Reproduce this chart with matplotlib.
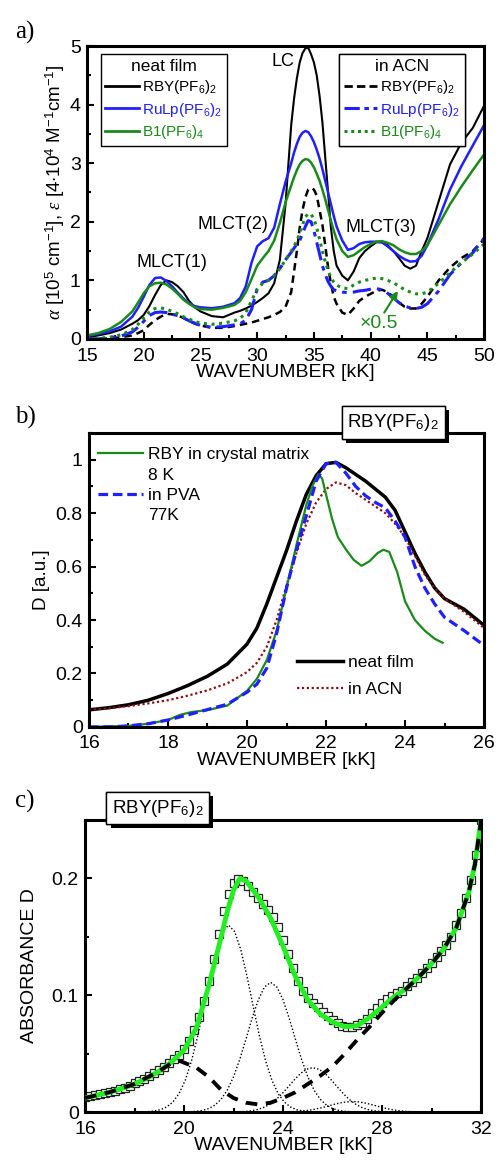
import numpy as np
import matplotlib.pyplot as plt
import matplotlib.patheffects as pe
from matplotlib.ticker import MultipleLocator
from matplotlib.lines import Line2D

plt.rcParams['font.family'] = ['Liberation Sans', 'DejaVu Sans']
plt.rcParams['mathtext.fontset'] = 'custom'
plt.rcParams['mathtext.rm'] = 'Liberation Sans'
plt.rcParams['mathtext.it'] = 'Liberation Serif:italic'
plt.rcParams['mathtext.bf'] = 'Liberation Sans:bold'

BLUE = '#1f1fff'
GREEN = '#1a8a1a'
LIME = '#22ee22'
DARKRED = '#8b1010'

# ---------------- panel a: absorption, neat film vs ACN ----------------
a_x = [15, 16, 17, 18, 19, 19.5, 20, 20.5, 21, 21.5, 22, 22.5, 23, 23.5, 24, 24.5, 25, 26, 27, 28,
       28.5, 29, 29.5, 30, 30.5, 31, 31.5, 32, 32.5, 33, 33.25, 33.5, 33.75, 34, 34.25, 34.5, 34.75,
       35, 35.25, 35.5, 35.75, 36, 36.25, 36.5, 36.75, 37, 37.5, 38, 38.5, 39, 39.5, 40, 40.5, 41,
       41.5, 42, 42.5, 43, 43.5, 44, 44.5, 45, 46, 47, 48, 49, 50]
film_rby = [0.03, 0.06, 0.1, 0.16, 0.26, 0.32, 0.41, 0.56, 0.75, 0.92, 1.0, 0.97, 0.9, 0.8, 0.65,
            0.54, 0.47, 0.39, 0.37, 0.45, 0.48, 0.52, 0.57, 0.63, 0.7, 0.78, 0.95, 1.35, 2.3, 3.65,
            4.1, 4.45, 4.72, 4.88, 4.96, 4.97, 4.86, 4.72, 4.5, 4.15, 3.7, 3.1, 2.5, 1.9, 1.5, 1.25,
            1.08, 1.0, 1.15, 1.38, 1.5, 1.58, 1.65, 1.65, 1.6, 1.5, 1.38, 1.25, 1.2, 1.25, 1.5,
            1.72, 2.35, 2.98, 3.35, 3.6, 3.98]
film_rulp = [0.05, 0.086, 0.13, 0.21, 0.38, 0.53, 0.72, 0.92, 1.04, 1.05, 0.99, 0.9, 0.79, 0.69,
             0.61, 0.56, 0.54, 0.525, 0.55, 0.61, 0.7, 0.9, 1.3, 1.58, 1.67, 1.72, 1.9, 2.3, 2.68,
             3.0, 3.18, 3.33, 3.45, 3.52, 3.55, 3.53, 3.46, 3.36, 3.23, 3.08, 2.9, 2.7, 2.5, 2.3,
             2.1, 1.92, 1.68, 1.52, 1.55, 1.62, 1.65, 1.66, 1.66, 1.65, 1.58, 1.5, 1.42, 1.36, 1.32,
             1.33, 1.42, 1.6, 2.05, 2.55, 2.95, 3.3, 3.65]
film_b1 = [0.06, 0.1, 0.17, 0.29, 0.47, 0.62, 0.78, 0.9, 0.95, 0.96, 0.93, 0.86, 0.77, 0.67, 0.6,
           0.54, 0.51, 0.5, 0.53, 0.58, 0.65, 0.8, 1.02, 1.25, 1.38, 1.5, 1.68, 1.98, 2.33, 2.62,
           2.76, 2.88, 2.98, 3.04, 3.07, 3.06, 3.01, 2.93, 2.82, 2.7, 2.55, 2.38, 2.2, 2.02, 1.85,
           1.7, 1.5, 1.4, 1.43, 1.5, 1.57, 1.62, 1.66, 1.67, 1.64, 1.6, 1.53, 1.48, 1.45, 1.45, 1.5,
           1.6, 1.95, 2.3, 2.6, 2.88, 3.15]
acn_rby = [0.0, 0.0, 0.01, 0.03, 0.06, 0.1, 0.15, 0.24, 0.32, 0.38, 0.43, 0.42, 0.4, 0.36, 0.31,
           0.26, 0.23, 0.19, 0.19, 0.22, 0.24, 0.26, 0.28, 0.31, 0.34, 0.37, 0.41, 0.46, 0.55, 0.8,
           1.15, 1.5, 1.9, 2.2, 2.42, 2.55, 2.58, 2.55, 2.45, 2.2, 1.95, 1.6, 1.22, 0.95, 0.72, 0.6,
           0.45, 0.41, 0.52, 0.65, 0.72, 0.77, 0.82, 0.84, 0.8, 0.72, 0.62, 0.55, 0.52, 0.52, 0.6,
           0.72, 1.0, 1.22, 1.38, 1.5, 1.7]
acn_rulp = [0.0, 0.0, 0.02, 0.05, 0.12, 0.2, 0.3, 0.4, 0.45, 0.46, 0.45, 0.42, 0.4, 0.36, 0.31,
            0.27, 0.23, 0.2, 0.21, 0.24, 0.26, 0.32, 0.5, 0.85, 0.97, 1.0, 1.08, 1.2, 1.35, 1.48,
            1.55, 1.62, 1.68, 1.8, 1.92, 2.02, 2.0, 1.85, 1.65, 1.45, 1.25, 1.1, 0.98, 0.9, 0.84,
            0.82, 0.8, 0.79, 0.8, 0.82, 0.83, 0.85, 0.86, 0.84, 0.78, 0.7, 0.62, 0.56, 0.53, 0.52,
            0.54, 0.6, 0.82, 1.1, 1.3, 1.47, 1.72]
acn_b1 = [0.0, 0.01, 0.03, 0.07, 0.16, 0.25, 0.36, 0.46, 0.52, 0.53, 0.51, 0.47, 0.43, 0.38, 0.34,
          0.3, 0.27, 0.25, 0.27, 0.31, 0.35, 0.45, 0.65, 0.85, 0.95, 1.0, 1.08, 1.2, 1.35, 1.5,
          1.58, 1.68, 1.8, 1.95, 2.08, 2.14, 2.13, 2.05, 1.9, 1.7, 1.5, 1.32, 1.17, 1.05, 0.97,
          0.92, 0.87, 0.86, 0.92, 0.97, 1.0, 1.02, 1.04, 1.03, 1.0, 0.96, 0.9, 0.84, 0.8, 0.77,
          0.77, 0.8, 0.95, 1.13, 1.3, 1.45, 1.62]

# ---------------- panel b: normalised spectra of RBY(PF6)2 ----------------
b_x = [16, 16.5, 17, 17.5, 18, 18.5, 19, 19.5, 20, 20.25, 20.5, 20.75, 21, 21.25, 21.5, 21.75, 22,
       22.25, 22.5, 22.75, 23, 23.25, 23.5, 23.75, 24, 24.25, 24.5, 24.75, 25, 25.5, 26]
b_film = [0.064, 0.072, 0.083, 0.1, 0.125, 0.155, 0.19, 0.235, 0.31, 0.37, 0.46, 0.56, 0.66, 0.77,
          0.87, 0.94, 0.985, 0.99, 0.97, 0.945, 0.92, 0.89, 0.86, 0.81, 0.73, 0.65, 0.58, 0.52, 0.48,
          0.44, 0.38]
b_acn = [0.064, 0.07, 0.078, 0.088, 0.1, 0.117, 0.137, 0.163, 0.205, 0.24, 0.3, 0.4, 0.53, 0.65,
         0.76, 0.84, 0.89, 0.915, 0.905, 0.875, 0.85, 0.825, 0.8, 0.76, 0.71, 0.64, 0.57, 0.52, 0.48,
         0.43, 0.37]
b_pva = [0.0, 0.0, 0.004, 0.012, 0.026, 0.045, 0.065, 0.085, 0.13, 0.16, 0.22, 0.35, 0.52, 0.66,
         0.79, 0.92, 0.985, 0.99, 0.95, 0.9, 0.865, 0.84, 0.82, 0.77, 0.71, 0.6, 0.52, 0.46, 0.41,
         0.36, 0.305]
b_xtal_x = [16, 17, 17.5, 18, 18.3, 18.6, 19, 19.5, 20, 20.25, 20.5, 20.75, 21, 21.25, 21.5, 21.65,
            21.8, 21.9, 22.0, 22.15, 22.3, 22.5, 22.7, 22.9, 23.1, 23.3, 23.45, 23.6, 23.8, 24.0,
            24.25, 24.5, 24.75, 24.95]
b_xtal_y = [0.0, 0.004, 0.012, 0.026, 0.045, 0.056, 0.063, 0.08, 0.135, 0.18, 0.25, 0.36, 0.52,
            0.68, 0.83, 0.9, 0.945, 0.93, 0.87, 0.78, 0.71, 0.665, 0.625, 0.603, 0.62, 0.65, 0.663,
            0.655, 0.58, 0.47, 0.4, 0.36, 0.33, 0.315]

# ---------------- panel c: band decomposition ----------------
c_x = [16.0, 16.2, 16.4, 16.6, 16.8, 17.0, 17.2, 17.4, 17.6, 17.8, 18.0, 18.2, 18.4, 18.6, 18.8,
       19.0, 19.2, 19.4, 19.6, 19.8, 20.0, 20.2, 20.4, 20.6, 20.8, 21.0, 21.2, 21.4, 21.6, 21.8,
       22.0, 22.2, 22.4, 22.6, 22.8, 23.0, 23.2, 23.4, 23.6, 23.8, 24.0, 24.2, 24.4, 24.6, 24.8,
       25.0, 25.2, 25.4, 25.6, 25.8, 26.0, 26.2, 26.4, 26.6, 26.8, 27.0, 27.2, 27.4, 27.6, 27.8,
       28.0, 28.2, 28.4, 28.6, 28.8, 29.0, 29.2, 29.4, 29.6, 29.8, 30.0, 30.2, 30.4, 30.6, 30.8,
       31.0, 31.2, 31.4, 31.6, 31.8, 32.0]
c_data = [0.0130, 0.0137, 0.0145, 0.0153, 0.0162, 0.0172, 0.0184, 0.0196, 0.0210, 0.0226, 0.0245,
          0.0264, 0.0285, 0.0308, 0.0333, 0.0360, 0.0388, 0.0418, 0.0450, 0.0490, 0.0540, 0.0610,
          0.0700, 0.0810, 0.0950, 0.1120, 0.1310, 0.1520, 0.1720, 0.1870, 0.1960, 0.1995, 0.1980,
          0.1935, 0.1880, 0.1830, 0.1780, 0.1730, 0.1670, 0.1580, 0.1470, 0.1350, 0.1230, 0.1125,
          0.1040, 0.0980, 0.0935, 0.0895, 0.0855, 0.0818, 0.0785, 0.0758, 0.0738, 0.0728, 0.0730,
          0.0742, 0.0765, 0.0800, 0.0845, 0.0890, 0.0935, 0.0970, 0.0995, 0.1015, 0.1040, 0.1075,
          0.1110, 0.1150, 0.1190, 0.1235, 0.1280, 0.1325, 0.1375, 0.1430, 0.1500, 0.1600, 0.1700,
          0.1830, 0.1990, 0.2200, 0.2500]
fit_x = [16, 16.5, 17, 17.5, 18, 18.5, 19, 19.5, 20, 20.5, 21, 21.5, 21.75, 22, 22.25, 22.5, 23,
         23.5, 24, 24.5, 25, 25.5, 26, 26.5, 27, 27.5, 28, 28.5, 29, 29.5, 30, 30.5, 31, 31.5,
         31.75, 32]
fit_y = [0.012, 0.0145, 0.017, 0.0202, 0.024, 0.029, 0.035, 0.043, 0.053, 0.072, 0.108, 0.150,
         0.172, 0.19, 0.2, 0.198, 0.184, 0.166, 0.142, 0.116, 0.096, 0.084, 0.077, 0.073, 0.074,
         0.081, 0.09, 0.099, 0.106, 0.116, 0.127, 0.14, 0.158, 0.188, 0.212, 0.25]
bg_x = [16, 17, 18, 19, 19.5, 19.8, 20.5, 21, 21.5, 22, 22.5, 23, 23.5, 24, 24.5, 25, 25.5, 26,
        26.5, 27, 27.5, 28, 28.5, 29, 29.5, 30, 30.5, 31, 31.5, 31.75, 32]
bg_y = [0.012, 0.017, 0.024, 0.035, 0.042, 0.044, 0.038, 0.030, 0.019, 0.012, 0.008, 0.0065,
        0.008, 0.012, 0.017, 0.024, 0.031, 0.039, 0.05, 0.062, 0.073, 0.085, 0.096, 0.106, 0.116,
        0.127, 0.14, 0.158, 0.188, 0.212, 0.25]
band_shape = [0.0022, 0.0055, 0.0126, 0.0270, 0.0536, 0.0991, 0.170, 0.272, 0.405, 0.561, 0.7225,
              0.8655, 0.9645, 1.0, 0.9645, 0.8655, 0.7225, 0.561, 0.405, 0.272, 0.170, 0.0991,
              0.0536, 0.0270, 0.0126, 0.0055, 0.0022]
band_offsets = [-3.25, -3.0, -2.75, -2.5, -2.25, -2.0, -1.75, -1.5, -1.25, -1.0, -0.75, -0.5, -0.25,
                0.0, 0.25, 0.5, 0.75, 1.0, 1.25, 1.5, 1.75, 2.0, 2.25, 2.5, 2.75, 3.0, 3.25]
band_centers = [21.8, 23.5, 25.2, 26.8]
band_heights = [0.16, 0.111, 0.038, 0.009]

fig = plt.figure(figsize=(4.97, 11.62), dpi=100)
ax_a = fig.add_axes([0.175, 0.7083, 0.799, 0.2521])
ax_b = fig.add_axes([0.179, 0.3744, 0.795, 0.2530])
ax_c = fig.add_axes([0.171, 0.0430, 0.797, 0.2513])


def style(ax, fs):
    for s in ax.spines.values():
        s.set_linewidth(2.2)
    ax.tick_params(which='both', direction='in', width=1.5, labelsize=fs, top=False, right=False)
    ax.tick_params(which='major', length=5)
    ax.tick_params(which='minor', length=3)
    ax.tick_params(axis='x', pad=6.5)
    ax.tick_params(axis='y', pad=4.5)


def boxed_label(ax, x, y, txt):
    t = ax.text(x, y, txt, transform=ax.transAxes, fontsize=13.5, ha='center', va='center',
                bbox=dict(boxstyle='square,pad=0.3', fc='white', ec='black', lw=1),
                clip_on=False, zorder=6)
    t.get_bbox_patch().set_path_effects([
        pe.withSimplePatchShadow(offset=(3, -3), shadow_rgbFace='black', alpha=1.0),
        pe.Normal()])


# panel a
ax_a.plot(a_x, film_rby, color='black', lw=1.5)
ax_a.plot(a_x, film_rulp, color=BLUE, lw=1.8)
ax_a.plot(a_x, film_b1, color=GREEN, lw=1.8)
ax_a.plot(a_x, acn_rby, color='black', lw=1.8, ls=(0, (3, 2)))
ax_a.plot(a_x, acn_rulp, color=BLUE, lw=2.2, ls=(0, (6, 2, 1.5, 2)))
ax_a.plot(a_x, acn_b1, color=GREEN, lw=2.2, ls=(0, (1, 1.5)))
ax_a.set_xlim(15, 50)
ax_a.set_ylim(0, 5)
ax_a.xaxis.set_major_locator(MultipleLocator(5))
ax_a.xaxis.set_minor_locator(MultipleLocator(2.5))
ax_a.yaxis.set_major_locator(MultipleLocator(1))
ax_a.yaxis.set_minor_locator(MultipleLocator(0.5))
style(ax_a, 14)
ax_a.set_xlabel('WAVENUMBER [kK]', fontsize=14, labelpad=-1)
ax_a.set_ylabel(r'$\alpha$ [10$^5$ cm$^{-1}$], $\varepsilon$ [4$\cdot$10$^4$ M$^{-1}$cm$^{-1}$]',
                fontsize=13.5, labelpad=2)
ax_a.text(32.3, 4.73, 'LC', fontsize=13, ha='center', va='center')
ax_a.text(22.5, 1.30, 'MLCT(1)', fontsize=13, ha='center', va='center')
ax_a.text(27.9, 1.95, 'MLCT(2)', fontsize=13, ha='center', va='center')
ax_a.text(40.9, 1.90, 'MLCT(3)', fontsize=13, ha='center', va='center')
ax_a.text(40.7, 0.27, '×0.5', fontsize=14, color=GREEN, ha='center', va='center')
ax_a.annotate('', xy=(42.4, 0.82), xytext=(41.2, 0.45),
              arrowprops=dict(arrowstyle='-|>', color=GREEN, lw=1.5, shrinkA=0, shrinkB=0,
                              mutation_scale=12))

leg_film = [Line2D([], [], color='black', lw=2), Line2D([], [], color=BLUE, lw=2),
            Line2D([], [], color=GREEN, lw=2)]
leg_acn = [Line2D([], [], color='black', lw=2, ls=(0, (3, 1.5))),
           Line2D([], [], color=BLUE, lw=2.2, ls=(0, (5, 1.5, 1.5, 1.5))),
           Line2D([], [], color=GREEN, lw=2.2, ls=(0, (1, 1.2)))]
names = [r'RBY(PF$_6$)$_2$', r'RuLp(PF$_6$)$_2$', r'B1(PF$_6$)$_4$']
text_colors = ['black', BLUE, GREEN]
for handles, title, anchor in [(leg_film, 'neat film', (0.035, 0.973)),
                               (leg_acn, 'in ACN', (0.635, 0.973))]:
    lg = ax_a.legend(handles, names, title=title, loc='upper left', bbox_to_anchor=anchor,
                     fontsize=11, title_fontsize=12.5, fancybox=False, edgecolor='black',
                     framealpha=1, handlelength=2.2, handletextpad=0.2, borderpad=0.3,
                     labelspacing=0.3, borderaxespad=0)
    lg.get_frame().set_linewidth(1)
    for t, c in zip(lg.get_texts(), text_colors):
        t.set_color(c)
    ax_a.add_artist(lg)

# panel b
ax_b.plot(b_x, b_film, color='black', lw=2.5)
ax_b.plot(b_x, b_acn, color=DARKRED, lw=1.6, ls=(0, (1, 1.2)))
ax_b.plot(b_xtal_x, b_xtal_y, color=GREEN, lw=1.6)
ax_b.plot(b_x, b_pva, color=BLUE, lw=2.3, ls=(0, (3, 1.5)))
ax_b.set_xlim(16, 26)
ax_b.set_ylim(0, 1.1)
ax_b.xaxis.set_major_locator(MultipleLocator(2))
ax_b.xaxis.set_minor_locator(MultipleLocator(1))
ax_b.set_yticks([0, 0.2, 0.4, 0.6, 0.8, 1.0], ['0', '0.2', '0.4', '0.6', '0.8', '1'])
ax_b.yaxis.set_minor_locator(MultipleLocator(0.1))
style(ax_b, 14)
ax_b.tick_params(axis='x', pad=5.5)
ax_b.set_xlabel('WAVENUMBER [kK]', fontsize=14, labelpad=0)
ax_b.set_ylabel('D [a.u.]', fontsize=13.5, labelpad=4)
blank = Line2D([], [], color='none')
lg1 = ax_b.legend([Line2D([], [], color=GREEN, lw=1.6), blank,
                   Line2D([], [], color=BLUE, lw=2.3, ls=(0, (3, 1.5))), blank],
                  ['RBY in crystal matrix', '8 K', 'in PVA', '77K'], loc='upper left',
                  bbox_to_anchor=(0.005, 0.975), frameon=False, fontsize=12.5, handlelength=2.6,
                  handletextpad=0.3, labelspacing=0.3, borderaxespad=0)
ax_b.add_artist(lg1)
ax_b.legend([Line2D([], [], color='black', lw=2.5), Line2D([], [], color=DARKRED, lw=1.6, ls=(0, (1, 1.2)))],
            ['neat film', 'in ACN'], loc='upper left', bbox_to_anchor=(0.51, 0.27),
            frameon=False, fontsize=12.5, handlelength=2.6, handletextpad=0.3,
            labelspacing=0.7, borderaxespad=0)
boxed_label(ax_b, 0.77, 1.036, r'RBY(PF$_6$)$_2$')

# panel c
ax_c.plot(c_x, c_data, ls='none', marker='s', ms=6, mfc='white', mec='#222222', mew=0.9, zorder=2)
for cen, h in zip(band_centers, band_heights):
    ax_c.plot([cen + d for d in band_offsets], [h * v for v in band_shape], color='black',
              lw=1, ls=(0, (1, 1.5)), zorder=3)
ax_c.plot(fit_x, fit_y, color=LIME, lw=3.5, zorder=4)
ax_c.plot(bg_x, bg_y, color='black', lw=2.8, ls=(0, (3, 2.2)), zorder=5)
ax_c.set_xlim(16, 32)
ax_c.set_ylim(0, 0.25)
ax_c.xaxis.set_major_locator(MultipleLocator(4))
ax_c.xaxis.set_minor_locator(MultipleLocator(2))
ax_c.set_yticks([0, 0.1, 0.2], ['0', '0.1', '0.2'])
ax_c.yaxis.set_minor_locator(MultipleLocator(0.05))
style(ax_c, 14)
ax_c.set_xlabel('WAVENUMBER [kK]', fontsize=14, labelpad=-1)
ax_c.set_ylabel('ABSORBANCE D', fontsize=14, labelpad=10)
boxed_label(ax_c, 0.184, 1.041, r'RBY(PF$_6$)$_2$')

for lab, y in [('a)', 0.972), ('b)', 0.641), ('c)', 0.310)]:
    fig.text(0.03, y, lab, fontsize=18, family='Liberation Serif', va='center', ha='left')

fig.savefig('out.png', dpi=100)
